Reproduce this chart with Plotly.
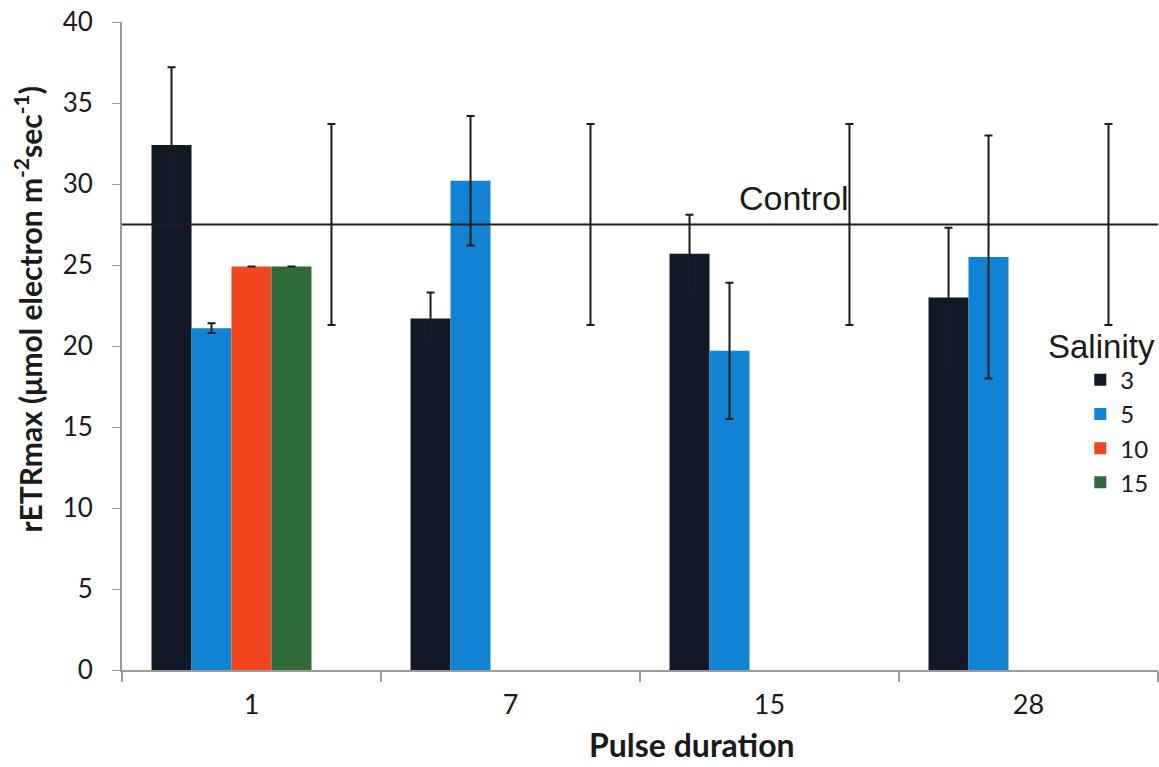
import plotly.graph_objects as go

# Pulse duration categories
durations = ["1", "7", "15", "28"]

# rETRmax means and error (± SD) for each salinity
sal3 = [32.4, 21.7, 25.7, 23.0]
sal3_err = [4.8, 1.6, 2.4, 4.3]
sal5 = [21.1, 30.2, 19.7, 25.5]
sal5_err = [0.3, 4.0, 4.2, 7.5]
sal10 = [24.9, None, None, None]
sal10_err = [0.0, None, None, None]
sal15 = [24.9, None, None, None]
sal15_err = [0.0, None, None, None]

# Control reference level and its spread
control_mean = 27.5
control_err = 6.2

salinity_labels = ["3", "5", "10", "15"]
colors = ["#111826", "#1283d2", "#f2461f", "#316a3b"]

TICK_FONT = "Lato, Arial, sans-serif"
TEXT_FONT = "Liberation Sans, Arial, sans-serif"

fig = go.Figure()

series = [(sal3, sal3_err), (sal5, sal5_err), (sal10, sal10_err), (sal15, sal15_err)]
for (vals, errs), name, col in zip(series, salinity_labels, colors):
    fig.add_trace(go.Bar(
        x=durations, y=vals, name=name, legendgroup=name,
        marker=dict(color=col, line=dict(width=0)),
        error_y=dict(type="data", array=errs, visible=True,
                     color="#1b1b1b", thickness=2, width=4),
    ))

# Control spread drawn as an invisible fifth bar in each group
fig.add_trace(go.Bar(
    x=durations, y=[control_mean] * len(durations), name="Control",
    marker=dict(color="rgba(0,0,0,0)", line=dict(width=0)),
    error_y=dict(type="data", array=[control_err] * len(durations), visible=True,
                 color="#1b1b1b", thickness=2, width=4),
    showlegend=False, hoverinfo="skip",
))

# Control level line
fig.add_hline(y=control_mean, line=dict(color="#1e1e1e", width=2), layer="above")

fig.add_annotation(
    x=durations.index("15"), y=control_mean, xref="x", yref="y", text="Control",
    showarrow=False, xanchor="center", yanchor="bottom", xshift=24, yshift=6,
    font=dict(family=TEXT_FONT, size=34, color="#1a1a1a"),
)

# Legend heading
fig.add_annotation(
    x=0.9995, y=0.50, xref="paper", yref="paper", text="Salinity",
    showarrow=False, xanchor="right", yanchor="middle",
    font=dict(family=TEXT_FONT, size=33, color="#1a1a1a"),
)

# Axis titles
fig.add_annotation(
    x=0.55, y=-0.115, xref="paper", yref="paper", text="<b>Pulse duration</b>",
    showarrow=False, xanchor="center", yanchor="middle",
    font=dict(family=TICK_FONT, size=32, color="#1a1a1a"),
)
fig.add_annotation(
    x=-0.091, y=0.556, xref="paper", yref="paper",
    text="<b>rETRmax (μmol electron m<sup>-2</sup>sec<sup>-1</sup>)</b>",
    textangle=-90, showarrow=False, xanchor="center", yanchor="middle",
    font=dict(family=TICK_FONT, size=30, color="#1a1a1a"),
)

fig.update_layout(
    width=1159, height=767,
    margin=dict(l=122, r=1, t=22, b=97),
    paper_bgcolor="white", plot_bgcolor="white",
    barmode="group", bargap=0.228, bargroupgap=0,
    legend=dict(
        x=0.925, y=0.482, xanchor="left", yanchor="top",
        font=dict(family=TICK_FONT, size=24, color="#1a1a1a"),
        bgcolor="rgba(0,0,0,0)", tracegroupgap=0, itemwidth=30,
    ),
    xaxis=dict(
        type="category", categoryorder="array", categoryarray=durations,
        range=[-0.5, len(durations) - 0.5], tickson="boundaries",
        showline=True, linecolor="#9a9a9a", linewidth=2,
        ticks="outside", ticklen=10, tickcolor="#9a9a9a", tickwidth=2,
        tickfont=dict(family=TICK_FONT, size=27, color="#1a1a1a"),
        ticklabelstandoff=10,
        showgrid=False, zeroline=False,
    ),
    yaxis=dict(
        range=[0, 40], tickvals=[0, 5, 10, 15, 20, 25, 30, 35, 40],
        showline=True, linecolor="#9a9a9a", linewidth=2,
        ticks="outside", ticklen=8, tickcolor="#9a9a9a", tickwidth=1,
        tickfont=dict(family=TICK_FONT, size=26, color="#1a1a1a"),
        ticklabelstandoff=14,
        showgrid=False, zeroline=False,
    ),
)

fig.write_html("out.html")
